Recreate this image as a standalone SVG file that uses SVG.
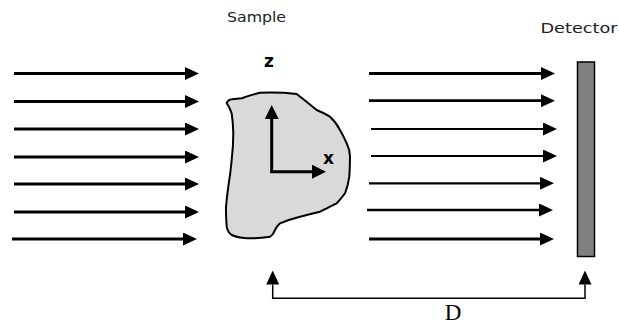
<svg xmlns="http://www.w3.org/2000/svg" width="619" height="326" viewBox="0 0 619 326">
<style>
.beam{stroke:#000;fill:none;marker-end:url(#ah)}
.lbl{font-family:"DejaVu Sans","Liberation Sans",sans-serif;font-size:14px;fill:#222}
.ax{stroke:#000;stroke-width:3;fill:none;marker-end:url(#ah2)}
</style>
<defs>
<marker id="ah" markerUnits="userSpaceOnUse" viewBox="0 0 14 13" refX="0" refY="6.5" markerWidth="14" markerHeight="13" orient="auto">
<path d="M0,0 L14,6.5 L0,13 Z" fill="#000"/>
</marker>
<marker id="ah2" markerUnits="userSpaceOnUse" viewBox="0 0 14 14" refX="0" refY="7" markerWidth="14" markerHeight="14" orient="auto">
<path d="M0,0 L14,7 L0,14 Z" fill="#000"/>
</marker>
</defs>
<g id="incident-beams">
<line class="beam" x1="14" y1="73.5" x2="185" y2="73.5" stroke-width="3"/>
<line class="beam" x1="14" y1="101.5" x2="185" y2="101.5" stroke-width="3"/>
<line class="beam" x1="14" y1="129" x2="185" y2="129" stroke-width="3"/>
<line class="beam" x1="14" y1="157" x2="185" y2="157" stroke-width="3"/>
<line class="beam" x1="14" y1="184" x2="185" y2="184" stroke-width="3"/>
<line class="beam" x1="14" y1="212" x2="185" y2="212" stroke-width="3"/>
<line class="beam" x1="12" y1="239" x2="183" y2="239" stroke-width="3"/>
</g>
<g id="sample">
<text class="lbl" x="256.5" y="22" text-anchor="middle" textLength="59" lengthAdjust="spacingAndGlyphs">Sample</text>
<path d="M226.7,103.3 Q228,99.5 232,99.3 Q237,98.8 241.7,98.3 Q250,95 260,92.7 Q280,92 296.7,94 Q307,102 316.7,110 Q324,113 330,116.7 Q336,122 340,130 Q344,137 346.7,143.3 Q350,150 350,156.7 Q350,167 349.3,176.7 Q348,186 345,193.3 Q341,199 336.7,203.3 Q331,206 326.7,208.3 Q323,210 320,211.7 Q310,214 300,216.7 Q289,219.5 280,223.3 Q277,226 275,230 Q273,235 270,236.7 Q258,238.5 246.7,238.3 Q237,237.5 231.7,235 Q227.5,232 226.7,226.7 Q225.8,216 226,206.7 Q227,196 228.3,186.7 Q230.5,173 231.7,160 Q233.3,146 233.3,133.3 Q233,122 231.7,113.3 Q229,106 226.7,103.3 Z" fill="#d9d9d9" stroke="#000" stroke-width="2" stroke-linejoin="round"/>
<line class="ax" x1="271.7" y1="173" x2="271.7" y2="119"/>
<line class="ax" x1="270.2" y1="171.7" x2="312" y2="171.7"/>
<text x="269" y="67" text-anchor="middle" font-family="DejaVu Sans, sans-serif" font-weight="bold" font-size="17" fill="#000">z</text>
<text x="328.5" y="163.5" text-anchor="middle" font-family="DejaVu Sans, sans-serif" font-weight="bold" font-size="17" fill="#000">x</text>
</g>
<g id="transmitted-beams">
<line class="beam" x1="369" y1="73.5" x2="541" y2="73.5" stroke-width="3.2"/>
<line class="beam" x1="369" y1="100.7" x2="541" y2="100.7" stroke-width="2.7"/>
<line class="beam" x1="371" y1="129" x2="543" y2="129" stroke-width="1.8"/>
<line class="beam" x1="371" y1="156" x2="543" y2="156" stroke-width="1.8"/>
<line class="beam" x1="369" y1="183.3" x2="540" y2="183.3" stroke-width="2.3"/>
<line class="beam" x1="367" y1="210" x2="539" y2="210" stroke-width="2.7"/>
<line class="beam" x1="369" y1="239" x2="540" y2="239" stroke-width="3"/>
</g>
<g id="detector">
<text class="lbl" x="579" y="33" text-anchor="middle" textLength="77" lengthAdjust="spacingAndGlyphs">Detector</text>
<rect x="577.5" y="62" width="17" height="194.5" fill="#808080" stroke="#000" stroke-width="1.5"/>
</g>
<g id="distance">
<path d="M272.7,298.3 L585,298.3" stroke="#000" stroke-width="1.5" fill="none"/>
<line x1="272.7" y1="299" x2="272.7" y2="284.5" stroke="#000" stroke-width="1.5" marker-end="url(#ah)"/>
<line x1="585" y1="299" x2="585" y2="284.5" stroke="#000" stroke-width="1.5" marker-end="url(#ah)"/>
<text x="453" y="320" text-anchor="middle" font-family="Liberation Serif, serif" font-size="23" fill="#000">D</text>
</g>
</svg>
